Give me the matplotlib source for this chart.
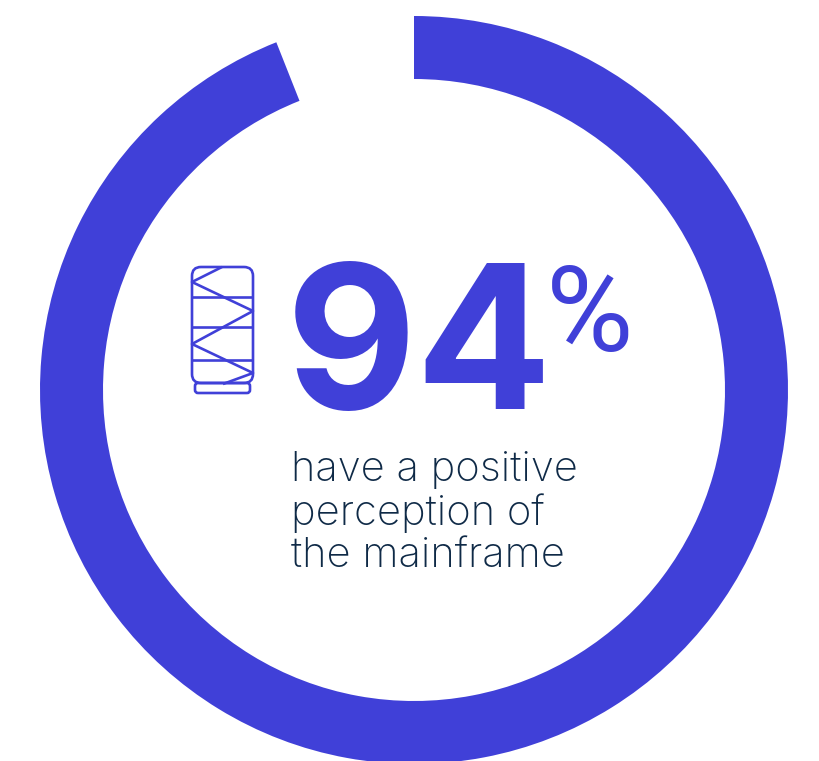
import matplotlib
matplotlib.use("Agg")
import matplotlib.pyplot as plt
from matplotlib.patches import FancyBboxPatch

# chart data
share_labels = ["positive", "rest"]
share_values = [94, 6]
big_number = "94"
big_sign = "%"
caption_lines = ["have a positive", "perception of", "the mainframe"]

BLUE = "#4040d8"
NAVY = "#0f2a47"
W, H = 820, 761


def py(y):
    # picture rows count from the top, the axes from the bottom
    return H - y


fig = plt.figure(figsize=(W / 100, H / 100), dpi=100)
ax = fig.add_axes([0, 0, 1, 1])

# ring
ax.pie(share_values, colors=[BLUE, "none"], startangle=90, counterclock=False,
       center=(414, py(390)), radius=374, frame=True,
       wedgeprops={"width": 63, "linewidth": 0})
ax.set_xlim(0, W)
ax.set_ylim(0, H)
ax.axis("off")

# big number
ax.text(286, py(409), big_number, color=BLUE, fontsize=145, family="Inter",
        fontweight="bold", ha="left", va="baseline")
ax.text(546, py(351), big_sign, color=BLUE, fontsize=86, family="Roboto",
        fontweight="normal", ha="left", va="baseline")

# caption
for line, base in zip(caption_lines, [481, 525, 568]):
    ax.text(291, py(base), line, color=NAVY, fontsize=30, family="Inter",
            fontweight="light", ha="left", va="baseline")

# mainframe icon
ax.add_patch(FancyBboxPatch((192, py(383)), 61, 116,
                            boxstyle="round,pad=0,rounding_size=9",
                            fill=False, ec=BLUE, lw=1.9))
ax.add_patch(FancyBboxPatch((195, py(393)), 55, 10,
                            boxstyle="round,pad=0,rounding_size=3",
                            fill=False, ec=BLUE, lw=1.9))
for y in [297, 327, 360]:
    ax.plot([192, 253], [py(y), py(y)], color=BLUE, lw=1.9, solid_capstyle="butt")
zig_x = [222, 192, 253, 192, 253, 223]
zig_y = [267, 282, 311, 344, 373, 384]
ax.plot(zig_x, [py(y) for y in zig_y], color=BLUE, lw=1.9, solid_capstyle="butt")

fig.savefig("out.png", dpi=100)
